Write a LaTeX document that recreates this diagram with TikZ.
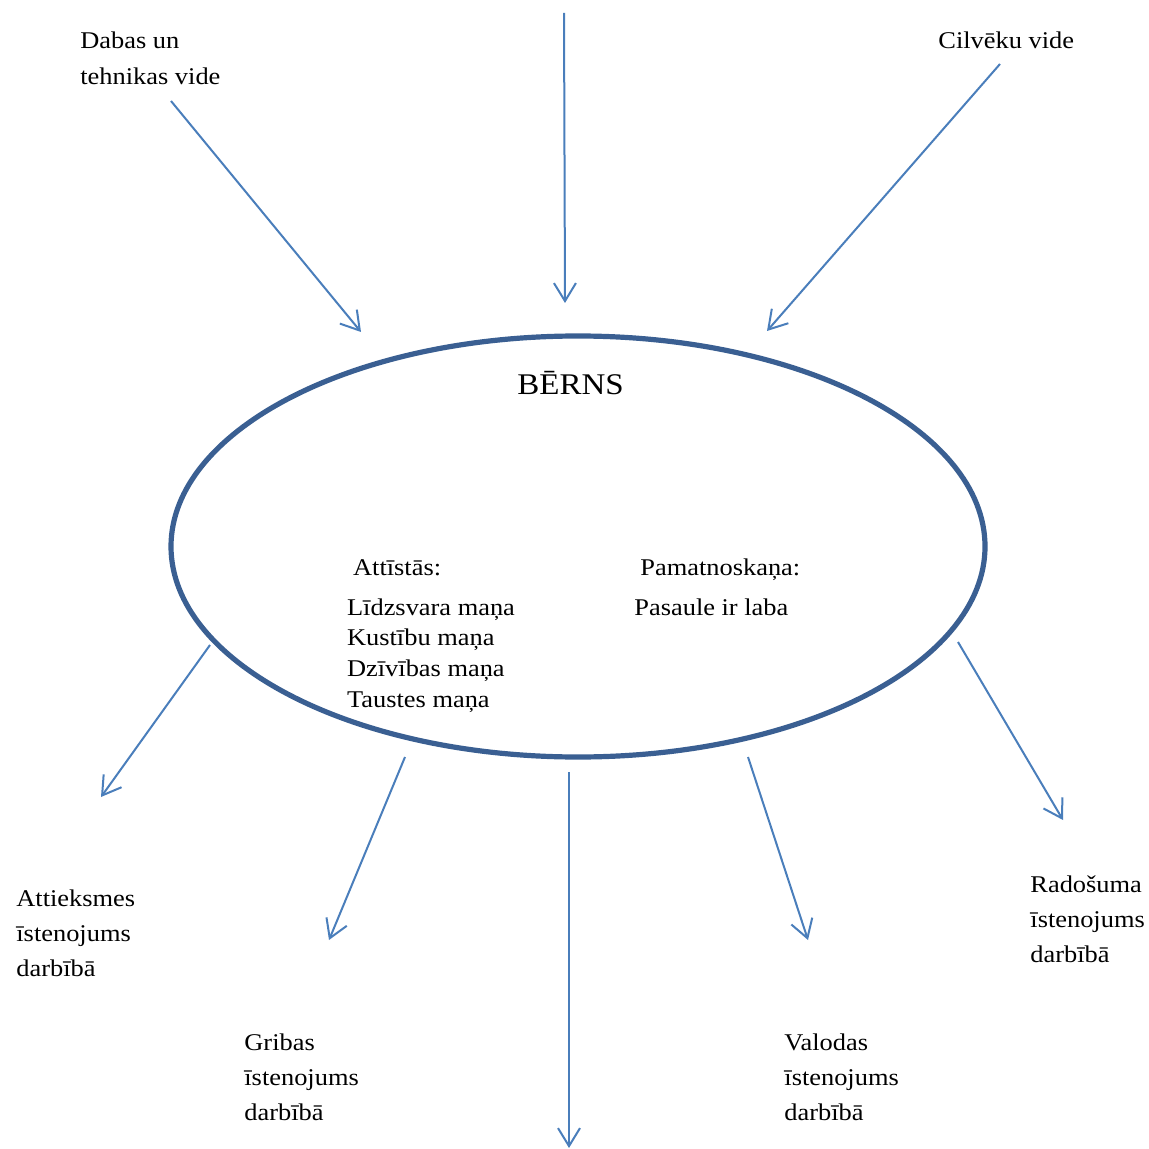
\documentclass[tikz,border=0pt]{standalone}
\usepackage{fontspec}
\setmainfont[FakeStretch=1.1]{Liberation Serif}
\usepackage{xcolor}
\definecolor{arrowBlue}{HTML}{4A7EBB}
\definecolor{ringBlue}{HTML}{3A5F92}
\usepackage{tikz}
\usetikzlibrary{shapes.geometric,arrows.meta}
\tikzset{
    child/.style={
        draw=ringBlue,
        ellipse,
        line width=2.6pt,
        minimum width=407pt,
        minimum height=210.5pt,
        inner sep=0pt
    },
    arrow/.style={
        -{Straight Barb[length=9pt,width=11pt]},
        line width=1pt,
        color=arrowBlue
    },
    lbl/.style={
        anchor=base west,
        align=left,
        inner sep=0pt,
        font=\fontsize{12}{17.7}\selectfont
    },
    inlist/.style={
        anchor=base west,
        align=left,
        inner sep=0pt,
        font=\fontsize{12}{15.45}\selectfont
    }
}

\begin{document}
\begin{tikzpicture}[x=0.5pt,y=-0.5pt]
    \useasboundingbox (0,0) rectangle (1149,1149);

    % Child (multi-line nodes sit on their last baseline)
    \node[child] (berns) at (578,546.5) {};
    \node[anchor=base, inner sep=0pt, font=\fontsize{15}{18}\selectfont] (title) at (570.5,394.7) {BĒRNS};
    \node[inlist] (attistas) at (352.7,575) {Attīstās:};
    \node[inlist] (manas) at (346.7,707.7) {Līdzsvara maņa\\Kustību maņa\\Dzīvības maņa\\Taustes maņa};
    \node[inlist] (pamat) at (640,575) {Pamatnoskaņa:};
    \node[inlist] (pasaule) at (634,615) {Pasaule ir laba};

    % Environments
    \node[lbl] (dabas) at (80,84.4) {Dabas un\\tehnikas vide};
    \node[lbl] (cilveki) at (938,49) {Cilvēku vide};

    % Realisations
    \node[lbl] (attieksme) at (16,976.8) {Attieksmes\\īstenojums\\darbībā};
    \node[lbl] (gribas) at (244,1120.8) {Gribas\\īstenojums\\darbībā};
    \node[lbl] (valodas) at (784,1120.8) {Valodas\\īstenojums\\darbībā};
    \node[lbl] (radosums) at (1030,962.8) {Radošuma\\īstenojums\\darbībā};

    % Arrow ends
    \coordinate (inA) at (171,101);
    \coordinate (inAend) at (361,332);
    \coordinate (inB) at (564,13);
    \coordinate (inBend) at (565,303);
    \coordinate (inC) at (1000,64);
    \coordinate (inCend) at (767,331);
    \coordinate (outA) at (210,645);
    \coordinate (outAend) at (101,797);
    \coordinate (outB) at (405,757);
    \coordinate (outBend) at (329,940);
    \coordinate (outC) at (569,772);
    \coordinate (outCend) at (569,1148);
    \coordinate (outD) at (748,757);
    \coordinate (outDend) at (808,940);
    \coordinate (outE) at (958,642);
    \coordinate (outEend) at (1063,820);

    % Arrows
    \draw[arrow] (inA) -- (inAend);
    \draw[arrow] (inB) -- (inBend);
    \draw[arrow] (inC) -- (inCend);
    \draw[arrow] (outA) -- (outAend);
    \draw[arrow] (outB) -- (outBend);
    \draw[arrow] (outC) -- (outCend);
    \draw[arrow] (outD) -- (outDend);
    \draw[arrow] (outE) -- (outEend);
\end{tikzpicture}
\end{document}
